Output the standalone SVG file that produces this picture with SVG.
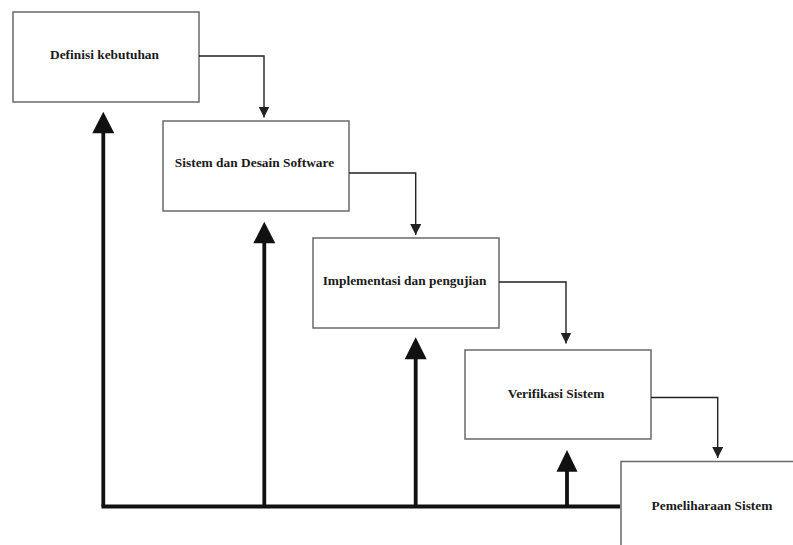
<svg xmlns="http://www.w3.org/2000/svg" width="793" height="545" viewBox="0 0 793 545">
<defs>
<style>
.box{fill:#fff;stroke:#6a6a6a;stroke-width:1.5}
.lbl{font-family:"Liberation Serif","Times New Roman",serif;font-weight:bold;font-size:13.4px;fill:#1a1a1a;text-anchor:middle}
.thin{fill:none;stroke:#222;stroke-width:1.4}
.thick{fill:none;stroke:#111;stroke-width:3.8}
.head{fill:#111}
</style>
<marker id="sm" viewBox="0 0 10 10" refX="10" refY="5" markerWidth="11" markerHeight="11" markerUnits="userSpaceOnUse" orient="auto">
<path d="M0,0 L10,5 L0,10 Z" fill="#222"/>
</marker>
</defs>
<rect width="793" height="545" fill="#fff"/>
<g id="n1"><rect class="box" x="13" y="12" width="186" height="90"/><text class="lbl" x="104.5" y="59">Definisi kebutuhan</text></g>
<g id="n2"><rect class="box" x="163" y="121" width="186" height="90"/><text class="lbl" x="254.5" y="167">Sistem dan Desain Software</text></g>
<g id="n3"><rect class="box" x="313" y="238" width="186" height="90"/><text class="lbl" x="404.5" y="285">Implementasi dan pengujian</text></g>
<g id="n4"><rect class="box" x="465" y="350" width="186" height="89"/><text class="lbl" x="556" y="398">Verifikasi Sistem</text></g>
<g id="n5"><rect class="box" x="621" y="461.5" width="186" height="90"/><text class="lbl" x="712" y="510">Pemeliharaan Sistem</text></g>
<g id="connectors">
<path class="thin" d="M199,56 H264 V117.5" marker-end="url(#sm)"/>
<path class="thin" d="M349,173 H415.7 V235" marker-end="url(#sm)"/>
<path class="thin" d="M499,282 H566 V343.5" marker-end="url(#sm)"/>
<path class="thin" d="M651,397.5 H717.7 V458" marker-end="url(#sm)"/>
<path class="thick" d="M101.5,506.5 H620"/>
<path class="thick" d="M103.3,506.5 V130"/>
<path class="head" d="M103.3,111.7 L114.3,133.3 L92.3,133.3 Z"/>
<path class="thick" d="M264.3,506.5 V240"/>
<path class="head" d="M264.3,221.7 L275.3,243.3 L253.3,243.3 Z"/>
<path class="thick" d="M415.7,506.5 V356"/>
<path class="head" d="M415.7,337.3 L426.7,359.3 L404.7,359.3 Z"/>
<path class="thick" d="M567,506.5 V468"/>
<path class="head" d="M567,450 L577.5,471.7 L556.5,471.7 Z"/>
</g>
</svg>
